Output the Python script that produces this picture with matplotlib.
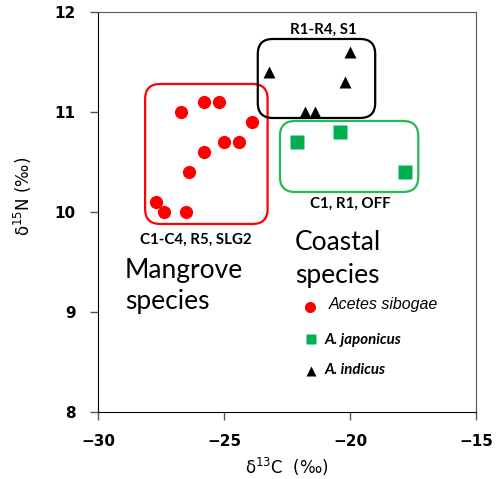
import numpy as np
import matplotlib.pyplot as plt
from matplotlib.patches import FancyBboxPatch

# Datos: delta13C (x) y delta15N (y)
acetes_x = [-26.7, -25.8, -25.2, -23.9, -25.0, -24.4, -25.8, -26.4, -27.7, -27.4, -26.5]
acetes_y = [11.0, 11.1, 11.1, 10.9, 10.7, 10.7, 10.6, 10.4, 10.1, 10.0, 10.0]
japon_x = [-22.1, -20.4, -17.8]
japon_y = [10.7, 10.8, 10.4]
indicus_x = [-23.2, -20.0, -20.2, -21.8, -21.4]
indicus_y = [11.4, 11.6, 11.3, 11.0, 11.0]

xticks = [-30, -25, -20, -15]
yticks = [8, 9, 10, 11, 12]

fig = plt.figure(figsize=(4.99, 4.79), dpi=100)
ax = fig.add_axes([0.1964, 0.1399, 0.7575, 0.8351])

ax.plot(acetes_x, acetes_y, 'o', color='#ff0000', ms=9.5, mec='none')
ax.plot(japon_x, japon_y, 's', color='#00b050', ms=10, mec='none')
ax.plot(indicus_x, indicus_y, '^', color='black', ms=9, mec='none')

# cajas redondeadas de cada grupo
def caja(x0, y0, x1, y1, color):
    p = FancyBboxPatch((x0, y0), x1 - x0, y1 - y0,
                       boxstyle='round,pad=0,rounding_size=0.6',
                       mutation_aspect=1 / 4.0,
                       fc='none', ec=color, lw=1.6)
    ax.add_patch(p)

caja(-28.13, 9.88, -23.27, 11.28, '#ff0000')
caja(-23.66, 10.94, -19.0, 11.73, 'black')
caja(-22.78, 10.20, -17.29, 10.91, '#22bb55')

ax.text(-21.05, 11.82, 'R1-R4, S1', ha='center', va='center', fontsize=10.8,
        fontweight='bold', family='Lato')
ax.text(-20.0, 10.08, 'C1, R1, OFF', ha='center', va='center', fontsize=10.8,
        fontweight='bold', family='Lato')
ax.text(-26.1, 9.72, 'C1-C4, R5, SLG2', ha='center', va='center', fontsize=10.8,
        fontweight='bold', family='Lato')

ax.text(-22.18, 9.62, 'Coastal', ha='left', va='baseline', fontsize=19,
        family='Lato')
ax.text(-22.18, 9.29, 'species', ha='left', va='baseline', fontsize=19,
        family='Lato')
ax.text(-28.93, 9.34, 'Mangrove', ha='left', va='baseline', fontsize=19,
        family='Lato')
ax.text(-28.93, 9.03, 'species', ha='left', va='baseline', fontsize=19,
        family='Lato')

# leyenda manual
ax.plot([-21.6], [9.05], 'o', color='#ff0000', ms=8, mec='none')
ax.text(-20.83, 9.07, 'Acetes sibogae', fontsize=11.5, style='italic',
        va='center', family='Liberation Sans')
ax.plot([-21.55], [8.73], 's', color='#00b050', ms=7.5, mec='none')
ax.text(-21.0, 8.72, 'A. japonicus', fontsize=10.8, style='italic',
        fontweight='bold', va='center', family='Lato')
ax.plot([-21.55], [8.41], '^', color='black', ms=7.5, mec='none')
ax.text(-21.0, 8.42, 'A. indicus', fontsize=10.8, style='italic',
        fontweight='bold', va='center', family='Lato')

ax.set_xlim(-30, -15)
ax.set_ylim(8, 12)
ax.set_xticks(xticks)
ax.set_yticks(yticks)
ax.set_xticklabels(['\u221230', '\u221225', '\u221220', '\u221215'])
for lab in ax.get_xticklabels() + ax.get_yticklabels():
    lab.set_fontweight('bold')
    lab.set_fontsize(11)
    lab.set_family('DejaVu Sans')
ax.tick_params(direction='out', length=6, width=1, color='#555555', pad=10)
ax.tick_params(axis='y', pad=10)
for s in ['top', 'right']:
    ax.spines[s].set_color('#555555')
for s in ['left', 'bottom']:
    ax.spines[s].set_color('black')

ax.set_xlabel('\u03b4$^{13}$C  (\u2030)', fontsize=12, family='DejaVu Sans')
ax.set_ylabel('\u03b4$^{15}$N (\u2030)', fontsize=12, family='DejaVu Sans')
ax.xaxis.labelpad = 5
ax.yaxis.set_label_coords(-0.17, 0.54)

fig.savefig('out.png', dpi=100)
